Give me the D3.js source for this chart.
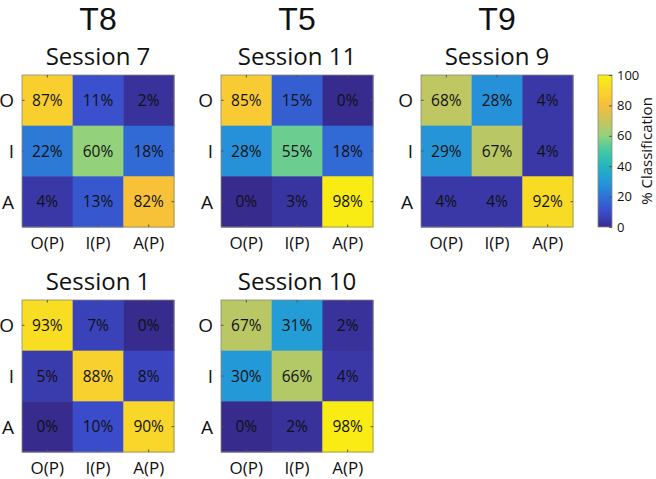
<!DOCTYPE html>
<html><head><meta charset="utf-8">
<script src="https://cdn.jsdelivr.net/npm/d3@7"></script>
<style>body{margin:0;background:#fff}svg{display:block}text{font-family:"Open Sans",sans-serif;fill:#111}</style>
</head><body><svg id="c" width="656" height="479"></svg>
<script>
const rowLabels = ["O","I","A"];
const colLabels = ["O(P)","I(P)","A(P)"];
const participants = ["T8","T5","T9"];
const sessions = ["Session 7","Session 11","Session 9","Session 1","Session 10"];
const m_T8_s7  = [[87,11,2],[22,60,18],[4,13,82]];
const m_T5_s11 = [[85,15,0],[28,55,18],[0,3,98]];
const m_T9_s9  = [[68,28,4],[29,67,4],[4,4,92]];
const m_T8_s1  = [[93,7,0],[5,88,8],[0,10,90]];
const m_T5_s10 = [[67,31,2],[30,66,4],[0,2,98]];
const colorbarTicks = [0,20,40,60,80,100];
const colorbarLabel = "% Classification";

const matrices = [m_T8_s7, m_T5_s11, m_T9_s9, m_T8_s1, m_T5_s10];
// parula colormap anchors (style)
const parula = ["#372b8e","#3b4ccb","#2e72d6","#2499d8","#22b4c0","#45c8a6","#93d17b","#c9c45c","#f7bd3c","#f8d62a","#f9f00f"];
const color = d3.scaleLinear().domain(d3.range(parula.length).map(i=>i*100/(parula.length-1))).range(parula).clamp(true);

const svg = d3.select("#c");
const size = 152;
const colX = [22, 221, 421];
const rowY = [75, 300];
const layout = [[0,0],[1,0],[2,0],[0,1],[1,1]];

participants.forEach((p,i)=>{
  svg.append("text").attr("x", colX[i]+size/2).attr("y", 29.5).attr("text-anchor","middle")
    .style("font-family","'Liberation Sans',Arial,sans-serif").attr("font-size", 32).text(p);
});

matrices.forEach((m,k)=>{
  const [ci,ri] = layout[k];
  const g = svg.append("g").attr("transform",`translate(${colX[ci]},${rowY[ri]})`);
  const x = d3.scaleBand().domain(colLabels).range([0,size]);
  const y = d3.scaleBand().domain(rowLabels).range([0,size]);
  g.append("text").attr("x", size/2).attr("y", -10).attr("text-anchor","middle").attr("font-size",24).text(sessions[k]);
  const cells = [];
  m.forEach((row,r)=>row.forEach((v,c)=>cells.push({r:rowLabels[r],c:colLabels[c],v})));
  g.selectAll("rect.cell").data(cells).join("rect").attr("class","cell")
    .attr("x",d=>x(d.c)).attr("y",d=>y(d.r)).attr("width",x.bandwidth()+0.5).attr("height",y.bandwidth()+0.5)
    .attr("fill",d=>color(d.v));
  g.selectAll("text.val").data(cells).join("text").attr("class","val")
    .attr("x",d=>x(d.c)+x.bandwidth()/2).attr("y",d=>y(d.r)+y.bandwidth()/2).attr("dy","0.36em")
    .attr("text-anchor","middle").attr("font-size",15.5).text(d=>d.v+"%");
  const ax = g.append("g");
  ax.append("rect").attr("width",size).attr("height",size).attr("fill","none").attr("stroke","#8a8a7a").attr("stroke-width",0.8);
  colLabels.forEach(c=>{
    const cx = x(c)+x.bandwidth()/2;
    ax.append("line").attr("x1",cx).attr("x2",cx).attr("y1",0).attr("y2",2.5).attr("stroke","#555");
    ax.append("line").attr("x1",cx).attr("x2",cx).attr("y1",size).attr("y2",size-2.5).attr("stroke","#555");
    ax.append("text").attr("x",cx).attr("y",size+21.5).attr("text-anchor","middle").attr("font-size",17).text(c);
  });
  rowLabels.forEach(r=>{
    const cy = y(r)+y.bandwidth()/2;
    ax.append("line").attr("y1",cy).attr("y2",cy).attr("x1",0).attr("x2",2.5).attr("stroke","#555");
    ax.append("line").attr("y1",cy).attr("y2",cy).attr("x1",size).attr("x2",size-2.5).attr("stroke","#555");
    ax.append("text").attr("x",-8).attr("y",cy).attr("dy","0.36em").attr("text-anchor","end").attr("font-size",19).text(r);
  });
});

// colorbar
const cbX = 598, cbW = 14, cbY = 75, cbH = 152;
const defs = svg.append("defs");
const grad = defs.append("linearGradient").attr("id","cb").attr("x1",0).attr("y1",1).attr("x2",0).attr("y2",0);
d3.range(0,101,5).forEach(t=>grad.append("stop").attr("offset",t+"%").attr("stop-color",color(t)));
svg.append("rect").attr("x",cbX).attr("y",cbY).attr("width",cbW).attr("height",cbH).attr("fill","url(#cb)")
  .attr("stroke","#8a8a7a").attr("stroke-width",0.8);
const cy = d3.scaleLinear().domain([0,100]).range([cbY+cbH, cbY]);
const cbAxis = svg.append("g").attr("transform",`translate(${cbX+cbW},0)`)
  .call(d3.axisRight(cy).tickValues(colorbarTicks).tickSize(-3).tickPadding(5));
cbAxis.select(".domain").remove();
cbAxis.selectAll("line").attr("stroke","#555");
cbAxis.selectAll("text").attr("font-size",13).attr("font-family","Open Sans").attr("fill","#111");
svg.append("text").attr("transform",`translate(652,${cbY+cbH/2}) rotate(-90)`).attr("text-anchor","middle")
  .attr("font-size",15).text(colorbarLabel);
</script></body></html>
